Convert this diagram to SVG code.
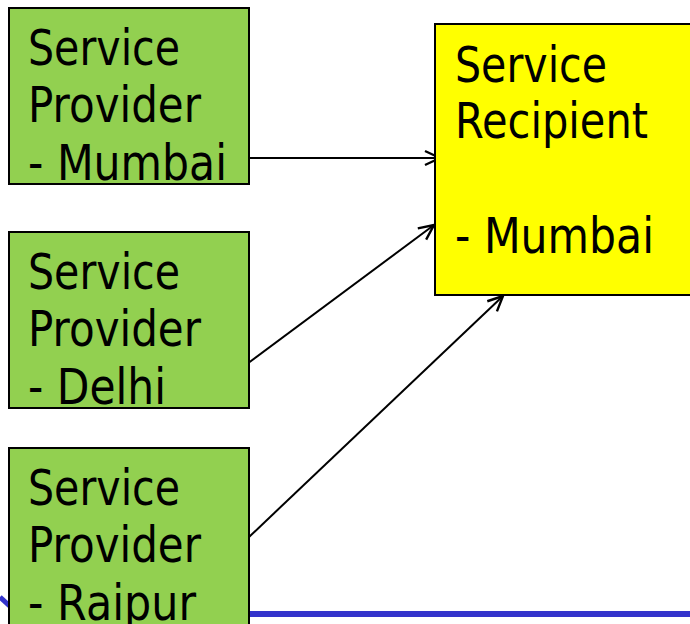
<svg xmlns="http://www.w3.org/2000/svg" width="690" height="624" viewBox="0 0 690 624">
  <style>
    .prov { fill: #92D050; stroke: #000; stroke-width: 2; }
    .recv { fill: #FFFF00; stroke: #000; stroke-width: 2; }
    .lbl { font-family: "DejaVu Sans", "Liberation Sans", sans-serif; font-size: 50px; fill: #000; }
    .conn { stroke: #000; stroke-width: 2; fill: none; marker-end: url(#open); }
  </style>
  <defs>
    <marker id="open" viewBox="0 0 20 20" refX="19" refY="10" markerWidth="20" markerHeight="20" markerUnits="userSpaceOnUse" orient="auto">
      <path d="M4,3 L19,10 L4,17" fill="none" stroke="#000" stroke-width="2.4"/>
    </marker>
  </defs>

  <!-- bottom rule -->
  <g id="rule">
    <line x1="0" y1="597" x2="14" y2="610" stroke="#3333CC" stroke-width="5"/>
    <line x1="240" y1="614" x2="690" y2="614" stroke="#3333CC" stroke-width="6"/>
  </g>

  <g id="connectors">
    <line class="conn" x1="249" y1="158" x2="440" y2="158"/>
    <line class="conn" x1="243" y1="367" x2="434" y2="225"/>
    <line class="conn" x1="249" y1="537" x2="503" y2="296"/>
  </g>

  <g id="provider-mumbai">
    <rect class="prov" x="9" y="8" width="240" height="176"/>
    <text class="lbl" x="28" y="65" textLength="152" lengthAdjust="spacingAndGlyphs">Service</text>
    <text class="lbl" x="28" y="122" textLength="173" lengthAdjust="spacingAndGlyphs">Provider</text>
    <text class="lbl" x="28" y="180" textLength="199" lengthAdjust="spacingAndGlyphs">- Mumbai</text>
  </g>

  <g id="provider-delhi">
    <rect class="prov" x="9" y="232" width="240" height="176"/>
    <text class="lbl" x="28" y="289" textLength="152" lengthAdjust="spacingAndGlyphs">Service</text>
    <text class="lbl" x="28" y="346" textLength="173" lengthAdjust="spacingAndGlyphs">Provider</text>
    <text class="lbl" x="28" y="404" textLength="138" lengthAdjust="spacingAndGlyphs">- Delhi</text>
  </g>

  <g id="provider-raipur">
    <rect class="prov" x="9" y="448" width="240" height="180"/>
    <text class="lbl" x="28" y="505" textLength="152" lengthAdjust="spacingAndGlyphs">Service</text>
    <text class="lbl" x="28" y="562" textLength="173" lengthAdjust="spacingAndGlyphs">Provider</text>
    <text class="lbl" x="28" y="620" textLength="168" lengthAdjust="spacingAndGlyphs">- Raipur</text>
  </g>

  <g id="recipient-mumbai">
    <rect class="recv" x="435" y="24" width="260" height="271"/>
    <text class="lbl" x="455" y="82" textLength="152" lengthAdjust="spacingAndGlyphs">Service</text>
    <text class="lbl" x="455" y="138" textLength="193" lengthAdjust="spacingAndGlyphs">Recipient</text>
    <text class="lbl" x="455" y="253" textLength="199" lengthAdjust="spacingAndGlyphs">- Mumbai</text>
  </g>
</svg>
